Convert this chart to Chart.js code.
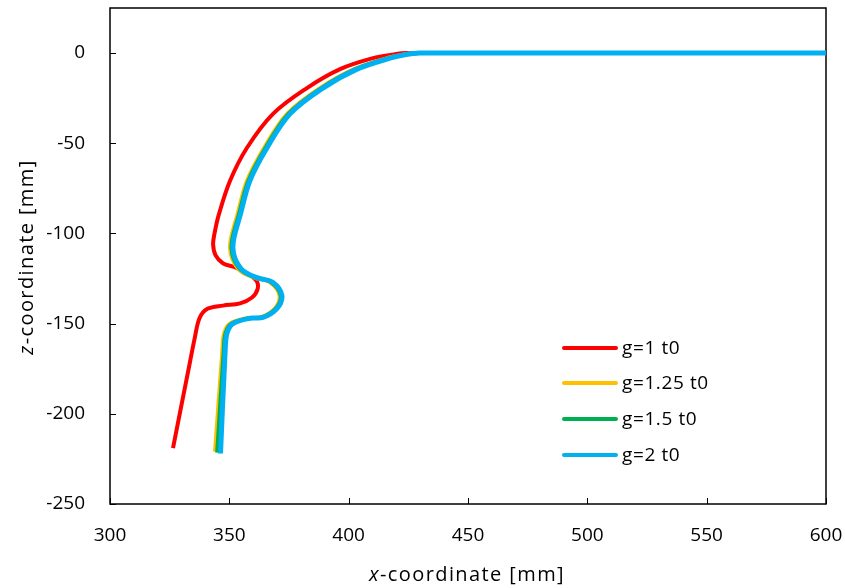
<!DOCTYPE html>
<html lang="en">
<head>
<meta charset="UTF-8">
<title>Profile z vs x</title>
<script src="https://cdn.jsdelivr.net/npm/chart.js"></script>
<style>
  body { margin: 0; background: #fff; }
  #wrap { position: relative; width: 845px; height: 588px; }
</style>
</head>
<body>
<div id="wrap"><canvas id="profil" width="845" height="588"></canvas></div>
<script>
// tick values
const xTicks = [300, 350, 400, 450, 500, 550, 600];
const yTicks = [-250, -200, -150, -100, -50, 0];

// series labels
const seriesNames = ['g=1 t0', 'g=1.25 t0', 'g=1.5 t0', 'g=2 t0'];
const seriesColors = ['#ff0000', '#ffc000', '#00b050', '#00b0f0'];

// g=1 t0
const xG1 = [600, 424.4, 418.0, 410.2, 396.4, 382.5, 368.3, 357.4, 350.3, 345.5, 343.8, 343.2, 344.2, 347.3, 352.5, 358.0, 361.5, 361.8, 359.5, 354.5, 347.3, 340.8, 337.5, 335.5, 333.4, 326.4];
const zG1 = [0, 0, -0.9, -2.8, -8.9, -19.4, -33.7, -52.5, -70.8, -90, -100, -106, -112, -116.5, -118.8, -122.5, -126.5, -131, -135.5, -138.8, -140, -141.8, -147, -158, -172, -219];

// g=1.25 t0
const xG125 = [600, 428.8, 422.9, 416.1, 402.3, 388.0, 374.2, 364.6, 357.4, 353.3, 350.8, 350.3, 351.2, 354.5, 360.5, 367.2, 371.0, 369.0, 363.0, 357.4, 350.3, 347.8, 347.0, 344.0];
const zG125 = [0, 0, -0.9, -2.8, -8.9, -19.4, -33.7, -52.5, -70.8, -90, -102, -108, -114, -120.6, -124.5, -127.2, -134.4, -141.6, -146.6, -147, -150, -155.4, -166.5, -221];

// g=1.5 t0
const xG15 = [600, 429.3, 423.3, 416.7, 402.9, 388.6, 374.8, 365.2, 358.0, 353.9, 351.4, 350.9, 351.8, 355.1, 361.0, 367.7, 371.5, 369.5, 363.5, 358.0, 350.9, 348.4, 347.6, 344.9];
const zG15 = [0, 0, -0.9, -2.8, -8.9, -19.4, -33.7, -52.5, -70.8, -90, -102, -108, -114, -120.6, -124.5, -127.2, -134.4, -141.6, -146.6, -147, -150, -155.4, -166.5, -221.5];

// g=2 t0
const xG2 = [600, 429.9, 423.5, 417.3, 403.5, 389.2, 375.4, 365.8, 358.6, 354.5, 352.0, 351.5, 352.4, 355.7, 361.6, 368.3, 372.0, 370.0, 364.1, 358.6, 351.5, 349.0, 348.2, 346.3];
const zG2 = [0, 0, -0.9, -2.8, -8.9, -19.4, -33.7, -52.5, -70.8, -90, -102, -108, -114, -120.6, -124.5, -127.2, -134.4, -141.6, -146.6, -147, -150, -155.4, -166.5, -222];

const FONT = '"Open Sans", sans-serif';

function punkte(xs, zs) {
    return xs.map((x, i) => ({ x: x, y: zs[i] }));
}

function ohnePadding(s) {
    s.paddingTop = 0;
    s.paddingBottom = 0;
    s.paddingLeft = 0;
    s.paddingRight = 0;
}

// italic variable + normal rest, centred on 0
function achsenTitel(ctx, v, y) {
    const rest = '-coordinate [mm]';
    ctx.letterSpacing = '1.4px';
    ctx.font = 'italic 20px ' + FONT;
    const w1 = ctx.measureText(v).width;
    ctx.font = '20px ' + FONT;
    const w2 = ctx.measureText(rest).width;
    const sx = -(w1 + w2) / 2;
    ctx.font = 'italic 20px ' + FONT;
    ctx.fillText(v, sx, y);
    ctx.font = '20px ' + FONT;
    ctx.fillText(rest, sx + w1, y);
}

// frame, inward tick marks, legend and axis titles
const extras = {
    id: 'extras',
    beforeDatasetsDraw(chart) {
        const { ctx, chartArea: a, scales } = chart;
        ctx.save();
        ctx.strokeStyle = '#000';
        ctx.lineWidth = 1.5;
        ctx.strokeRect(a.left, a.top, a.right - a.left, a.bottom - a.top);
        ctx.lineWidth = 1;
        ctx.beginPath();
        xTicks.forEach(v => {
            const px = Math.round(scales.x.getPixelForValue(v)) + 0.5;
            ctx.moveTo(px, a.bottom);
            ctx.lineTo(px, a.bottom - 6);
        });
        yTicks.forEach(v => {
            const py = Math.round(scales.y.getPixelForValue(v)) + 0.5;
            ctx.moveTo(a.left, py);
            ctx.lineTo(a.left + 6, py);
        });
        ctx.stroke();
        ctx.restore();
    },
    afterDraw(chart) {
        const ctx = chart.ctx;
        ctx.save();
        // legend
        const ly = [348, 383, 419, 455];
        ctx.font = '19px ' + FONT;
        ctx.letterSpacing = '0.6px';
        ctx.textBaseline = 'middle';
        ctx.textAlign = 'left';
        seriesNames.forEach((n, i) => {
            ctx.strokeStyle = seriesColors[i];
            ctx.lineWidth = 4;
            ctx.lineCap = 'round';
            ctx.beginPath();
            ctx.moveTo(564, ly[i]);
            ctx.lineTo(616, ly[i]);
            ctx.stroke();
            ctx.fillStyle = '#000';
            ctx.fillText(n, 622, ly[i] + 1);
        });
        // axis titles
        ctx.fillStyle = '#000';
        ctx.textBaseline = 'alphabetic';
        ctx.save();
        ctx.translate(467, 0);
        achsenTitel(ctx, 'x', 581);
        ctx.restore();
        ctx.translate(33, 257);
        ctx.rotate(-Math.PI / 2);
        achsenTitel(ctx, 'z', 0);
        ctx.restore();
    }
};

const reihen = [
    [xG1, zG1, 4],
    [xG125, zG125, 4],
    [xG15, zG15, 4],
    [xG2, zG2, 5]
];

new Chart(document.getElementById('profil'), {
    type: 'scatter',
    data: {
        datasets: reihen.map((r, i) => ({
            label: seriesNames[i],
            data: punkte(r[0], r[1]),
            showLine: true,
            borderColor: seriesColors[i],
            backgroundColor: seriesColors[i],
            borderWidth: r[2],
            pointRadius: 0,
            tension: 0.35,
            order: 4 - i
        }))
    },
    options: {
        responsive: false,
        animation: false,
        layout: { padding: { top: 8, right: 19, left: 0, bottom: 0 } },
        plugins: { legend: { display: false }, tooltip: { enabled: false } },
        scales: {
            x: {
                type: 'linear',
                min: 300,
                max: 600,
                afterBuildTicks: s => { s.ticks = xTicks.map(v => ({ value: v })); },
                afterFit: s => { s.height = 84; ohnePadding(s); },
                grid: { display: false, drawTicks: false },
                border: { display: false },
                ticks: { color: '#000', padding: 20, maxRotation: 0, font: { family: FONT, size: 19 } }
            },
            y: {
                type: 'linear',
                min: -250,
                max: 25,
                afterBuildTicks: s => { s.ticks = yTicks.map(v => ({ value: v })); },
                afterFit: s => { s.width = 110; ohnePadding(s); },
                grid: { display: false, drawTicks: false },
                border: { display: false },
                ticks: { color: '#000', padding: 25, font: { family: FONT, size: 19 } }
            }
        }
    },
    plugins: [extras]
});
</script>
</body>
</html>
